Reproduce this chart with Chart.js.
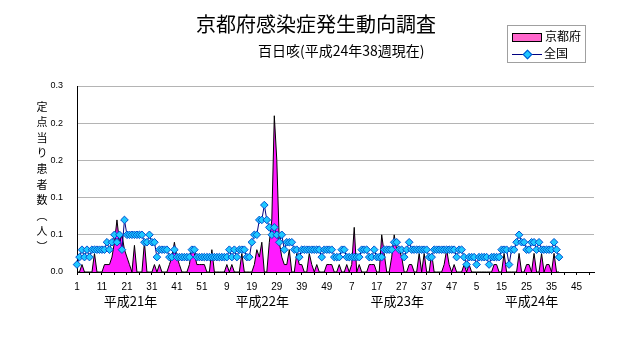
<!DOCTYPE html>
<html lang="ja">
<head>
<meta charset="utf-8">
<title>京都府感染症発生動向調査 百日咳</title>
<script src="https://cdn.jsdelivr.net/npm/chart.js@4.4.1/dist/chart.umd.min.js"></script>
<style>
  body { margin: 0; background: #fff; }
  #wrap { position: relative; width: 632px; height: 348px; font-family: "Noto Sans CJK JP", sans-serif; color: #000; }
  #chart { position: absolute; left: 0; top: 0; }
  .titulo { position: absolute; left: 0; width: 632px; top: 11px; text-align: center; font-size: 20px; line-height: 26px; }
  .subtitulo { position: absolute; left: 258px; top: 40px; font-size: 14px; line-height: 20px; }
  .eixo-y { position: absolute; left: 36px; top: 101px; font-size: 11px; line-height: 12px; writing-mode: vertical-rl; letter-spacing: 4.6px; }
  .legenda { position: absolute; left: 507px; top: 25px; width: 77px; height: 36px; border: 1px solid #a0a0a0; font-size: 12px; }
  .legenda div { position: absolute; left: 4px; height: 16px; line-height: 16px; }
  .sw-area { display: inline-block; width: 28px; height: 7px; background: #ff66cc; border: 1px solid #000; vertical-align: middle; margin-right: 3px; }
  .sw-linha { display: inline-block; position: relative; width: 30px; height: 9px; vertical-align: middle; margin-right: 2px; }
  .sw-linha:before { content: ""; position: absolute; left: 0; right: 0; top: 4px; height: 1px; background: #000080; }
  .sw-linha:after { content: ""; position: absolute; left: 12px; top: 1px; width: 5px; height: 5px; background: #1ec8ff; border: 1px solid #0050d0; transform: rotate(45deg); }
</style>
</head>
<body>
<div id="wrap">
  <canvas id="chart" width="632" height="348"></canvas>
  <div class="titulo">京都府感染症発生動向調査</div>
  <div class="subtitulo">百日咳(平成24年38週現在)</div>
  <div class="eixo-y">定点当り患者数（人）</div>
  <div class="legenda">
    <div style="top:2px"><span class="sw-area"></span>京都府</div>
    <div style="top:19px"><span class="sw-linha"></span>全国</div>
  </div>
</div>
<script>
// 週ごとの定点当り報告数（平成21年第1週〜平成24年第38週）
const anos = ['平成21年', '平成22年', '平成23年', '平成24年'];
const semanasPorAno = [52, 52, 52, 52];
const rotulosY = ['0.0', '0.1', '0.1', '0.2', '0.2', '0.3'];

const kyoto = [
  0, 0, 0.012, 0, 0, 0, 0, 0.03, 0, 0, 0, 0.012, 0.012, 0.012, 0.024, 0.048, 0.084, 0.048, 0.06, 0.036,
  0.024, 0.012, 0, 0.043, 0, 0, 0, 0.048, 0, 0, 0, 0.012, 0, 0.012, 0, 0, 0, 0.012, 0.024, 0.048,
  0.024, 0.012, 0, 0, 0, 0.012, 0.04, 0.03, 0.012, 0.012, 0.012, 0.012,
  0, 0, 0.036, 0, 0, 0, 0, 0, 0.012, 0, 0.012, 0, 0, 0, 0.03, 0, 0, 0,
  0, 0.012, 0.036, 0.024, 0.048, 0, 0, 0.048, 0.084, 0.252, 0.18, 0.048, 0.024, 0.012, 0.012, 0.036, 0, 0, 0.03, 0.012,
  0.012, 0, 0, 0.03, 0.012, 0, 0.012, 0, 0, 0, 0.012, 0.012, 0.012, 0,
  0, 0.012, 0, 0, 0.012, 0, 0.012, 0.072, 0, 0.012, 0, 0, 0, 0.012, 0.012, 0.012, 0, 0, 0.06, 0.03,
  0, 0, 0.024, 0.06, 0.036, 0.036, 0.024, 0, 0, 0.012, 0.012, 0, 0, 0.03, 0, 0.03, 0, 0, 0.03, 0,
  0, 0, 0, 0.012, 0.036, 0.012, 0, 0.012, 0, 0, 0, 0.012,
  0, 0.012, 0, 0, 0, 0, 0, 0, 0, 0, 0, 0.012, 0.012, 0, 0, 0.03, 0, 0, 0, 0,
  0, 0.03, 0, 0, 0.012, 0.012, 0, 0.03, 0, 0, 0.03, 0, 0.012, 0.012, 0, 0.03, 0, 0
];

const zenkoku = [
  0.012, 0.024, 0.036, 0.024, 0.036, 0.024, 0.036, 0.036, 0.036, 0.036, 0.036, 0.036, 0.048, 0.036, 0.048, 0.06, 0.048, 0.06, 0.036, 0.084,
  0.06, 0.06, 0.06, 0.06, 0.06, 0.06, 0.06, 0.048, 0.048, 0.06, 0.048, 0.048, 0.024, 0.036, 0.036, 0.036, 0.036, 0.024, 0.024, 0.036,
  0.024, 0.024, 0.024, 0.024, 0.024, 0.024, 0.036, 0.036, 0.024, 0.024, 0.024, 0.024,
  0.024, 0.024, 0.024, 0.024, 0.024, 0.024, 0.024, 0.024, 0.024, 0.036, 0.024, 0.036, 0.024, 0.036, 0.036, 0.036, 0.024, 0.024,
  0.048, 0.06, 0.06, 0.084, 0.084, 0.108, 0.084, 0.072, 0.06, 0.072, 0.06, 0.048, 0.06, 0.036, 0.048, 0.048, 0.048, 0.036, 0.036, 0.024,
  0.036, 0.036, 0.036, 0.036, 0.036, 0.036, 0.036, 0.036, 0.024, 0.036, 0.036, 0.036, 0.036, 0.024,
  0.024, 0.024, 0.036, 0.036, 0.024, 0.024, 0.024, 0.024, 0.024, 0.024, 0.036, 0.036, 0.036, 0.024, 0.024, 0.036, 0.024, 0.024, 0.024, 0.036,
  0.036, 0.036, 0.036, 0.048, 0.048, 0.036, 0.036, 0.024, 0.036, 0.048, 0.036, 0.036, 0.036, 0.036, 0.036, 0.036, 0.036, 0.024, 0.024, 0.036,
  0.036, 0.036, 0.036, 0.036, 0.036, 0.036, 0.036, 0.036, 0.024, 0.036, 0.036, 0.024,
  0.012, 0.024, 0.024, 0.024, 0.012, 0.024, 0.024, 0.024, 0.024, 0.012, 0.024, 0.024, 0.024, 0.024, 0.036, 0.036, 0.036, 0.012, 0.036, 0.036,
  0.048, 0.06, 0.048, 0.048, 0.036, 0.036, 0.048, 0.048, 0.036, 0.048, 0.036, 0.036, 0.036, 0.036, 0.036, 0.048, 0.036, 0.024
];

const semanas = [];
semanasPorAno.forEach(n => {
  for (let w = 1; w <= n; w++) semanas.push(String(w));
});

// 年の見出しを目盛りの下に描く
const rotuloAnos = {
  id: 'rotuloAnos',
  afterDraw(chart) {
    const x = chart.scales.x;
    const ctx = chart.ctx;
    const centro = [21.4, 22.2, 24.2, 26]; // 各年の見出しの中心（週）
    ctx.save();
    ctx.font = '13px "Noto Sans CJK JP"';
    ctx.fillStyle = '#000';
    ctx.textAlign = 'center';
    ctx.textBaseline = 'middle';
    let inicio = 0;
    anos.forEach((nome, k) => {
      ctx.fillText(nome, x.getPixelForValue(inicio + centro[k]), 301);
      inicio += semanasPorAno[k];
    });
    ctx.restore();
  }
};

new Chart(document.getElementById('chart'), {
  type: 'line',
  data: {
    labels: semanas,
    datasets: [
      {
        label: '全国',
        data: zenkoku,
        borderColor: '#000080',
        borderWidth: 1,
        pointStyle: 'rectRot',
        pointRadius: 3.8,
        pointBackgroundColor: '#1ec8ff',
        pointBorderColor: '#0050d0',
        pointBorderWidth: 1,
        tension: 0,
        fill: false,
        order: 0
      },
      {
        label: '京都府',
        data: kyoto,
        borderColor: '#000',
        borderWidth: 1,
        backgroundColor: '#ff1aff',
        pointRadius: 0,
        tension: 0,
        fill: 'origin',
        order: 1
      }
    ]
  },
  options: {
    responsive: false,
    animation: false,
    events: [],
    layout: { autoPadding: false, padding: { left: 0, right: 38, top: 86, bottom: 0 } },
    plugins: { legend: { display: false }, tooltip: { enabled: false } },
    scales: {
      x: {
        offset: false,
        afterFit(scale) { scale.height = 76; },
        border: { color: '#000', width: 1 },
        grid: {
          drawOnChartArea: false,
          drawTicks: true,
          tickLength: 3,
          tickColor: ctx => (ctx.index % 5 === 0 ? '#000' : 'rgba(0,0,0,0)')
        },
        ticks: {
          autoSkip: false,
          maxRotation: 0,
          padding: 6,
          color: '#000',
          font: { family: 'Liberation Sans', size: 10 },
          callback: (v, i) => (i % 10 === 0 ? semanas[i] : '')
        }
      },
      y: {
        min: 0,
        max: 0.3,
        afterFit(scale) { scale.width = 77; },
        afterBuildTicks(scale) {
          scale.ticks = rotulosY.map((_, i) => ({ value: i * 0.06 }));
        },
        border: { color: '#000', width: 1 },
        grid: {
          color: '#b4b4b4',
          borderDash: [4, 3],
          drawTicks: false
        },
        ticks: {
          padding: 14,
          color: '#000',
          font: { family: 'Liberation Sans', size: 9 },
          callback: (v, i) => rotulosY[i]
        }
      }
    }
  },
  plugins: [rotuloAnos]
});
</script>
</body>
</html>
